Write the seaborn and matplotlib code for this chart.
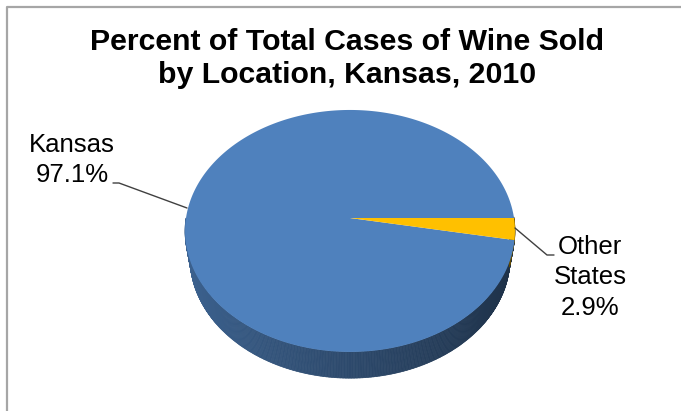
import numpy as np
import matplotlib
matplotlib.use("Agg")
import matplotlib.pyplot as plt
import matplotlib.transforms as mtransforms
from matplotlib.path import Path
from matplotlib.collections import PolyCollection
import seaborn as sns

# chart data
locations = ["Kansas", "Other States"]
shares = [97.1, 2.9]
title_lines = ["Percent of Total Cases of Wine Sold", "by Location, Kansas, 2010"]

top_colors = ["#4f81bd", "#ffc000"]

sns.set_theme(style="white")
plt.rcParams["font.family"] = ["Liberation Sans", "DejaVu Sans"]

# 3d look: centre, radii (px), perspective and depth
CX, CY = 350, 218
RX, RY = 164, 119.6
K = 0.107
DEPTH = 27


class Persp(mtransforms.Transform):
    input_dims = 2
    output_dims = 2
    is_separable = False
    has_inverse = False

    def __init__(self, drop=0.0, scale=1.0):
        super().__init__()
        self.drop = drop
        self.scale = scale

    def transform_non_affine(self, xy):
        xy = np.asarray(xy, dtype=float)
        x, y = xy[:, 0], xy[:, 1]
        w = 1 + K * y
        s = self.scale
        return np.column_stack([CX + s * RX * x / w, CY - s * RY * y / w + self.drop / w])

    def transform_path_non_affine(self, path):
        # sample the bezier arcs densely so the projection stays smooth
        t = np.linspace(0, 1, 24)
        pts = []
        for seg, code in path.iter_bezier():
            if seg.degree == 0:
                pts.append(seg.control_points)
            else:
                pts.append(seg(t))
        verts = self.transform_non_affine(np.concatenate(pts))
        return Path(np.vstack([verts, verts[:1]]), closed=True)


def shade(hex_color, f):
    r, g, b = matplotlib.colors.to_rgb(hex_color)
    return (r * f, g * f, b * f)


fig = plt.figure(figsize=(6.81, 4.11), dpi=100)
ax = fig.add_axes([0, 0, 1, 1])

wedges, _ = ax.pie(shares, colors=top_colors, startangle=0, counterclock=True,
                   wedgeprops=dict(linewidth=0))

top = Persp(0.0)
bottom = Persp(DEPTH, 0.97)
for wdg, col in zip(wedges, top_colors):
    wdg.set_transform(top + ax.transData)
    wdg.set_zorder(3)
    # side band of this slice (front part only, back is hidden)
    th = np.deg2rad(np.arange(wdg.theta1, wdg.theta2 + 0.5, 0.5))
    pts = np.column_stack([np.cos(th), np.sin(th)])
    up = top.transform(pts)
    dn = bottom.transform(pts)
    quads, cols = [], []
    for i in range(len(th) - 1):
        if np.sin(th[i]) > 0.0 and np.sin(th[i + 1]) > 0.0:
            continue
        quads.append([up[i], up[i + 1], dn[i + 1], dn[i]])
        c = 0.5 * (np.cos(th[i]) + np.cos(th[i + 1]))
        cols.append(shade(col, 0.57 - 0.19 * c))
    if quads:
        pc = PolyCollection(quads, facecolors=cols, edgecolors=cols,
                            linewidths=0.5, zorder=2)
        ax.add_collection(pc)

# labels with leader lines
label_pos = [(72, [152, 182]), (590, [254, 284, 315])]
for (x, ys), name, val in zip(label_pos, locations, shares):
    lines = name.split(" ") + [f"{val:.1f}%"]
    if len(lines) > len(ys):
        lines = [name, f"{val:.1f}%"]
    for txt, yb in zip(lines, ys):
        ax.text(x, yb, txt, ha="center", va="baseline", fontsize=18.5, color="black")

ax.plot([113, 119, 187], [183, 183, 208], color="#404040", lw=1, zorder=4)
ax.plot([515, 547, 554], [228, 255, 255], color="#404040", lw=1, zorder=4)

# title
for txt, yb in zip(title_lines, [50, 83]):
    ax.text(347, yb, txt, ha="center", va="baseline", fontsize=21.8,
            fontweight="bold", color="black")

# chart border
ax.plot([7, 7, 690], [420, 7, 7], color="#a6a6a6", lw=1.6, zorder=5)

ax.set_xlim(0, 681)
ax.set_ylim(411, 0)
ax.set_aspect("auto")
ax.axis("off")

fig.savefig("out.png", dpi=100)
